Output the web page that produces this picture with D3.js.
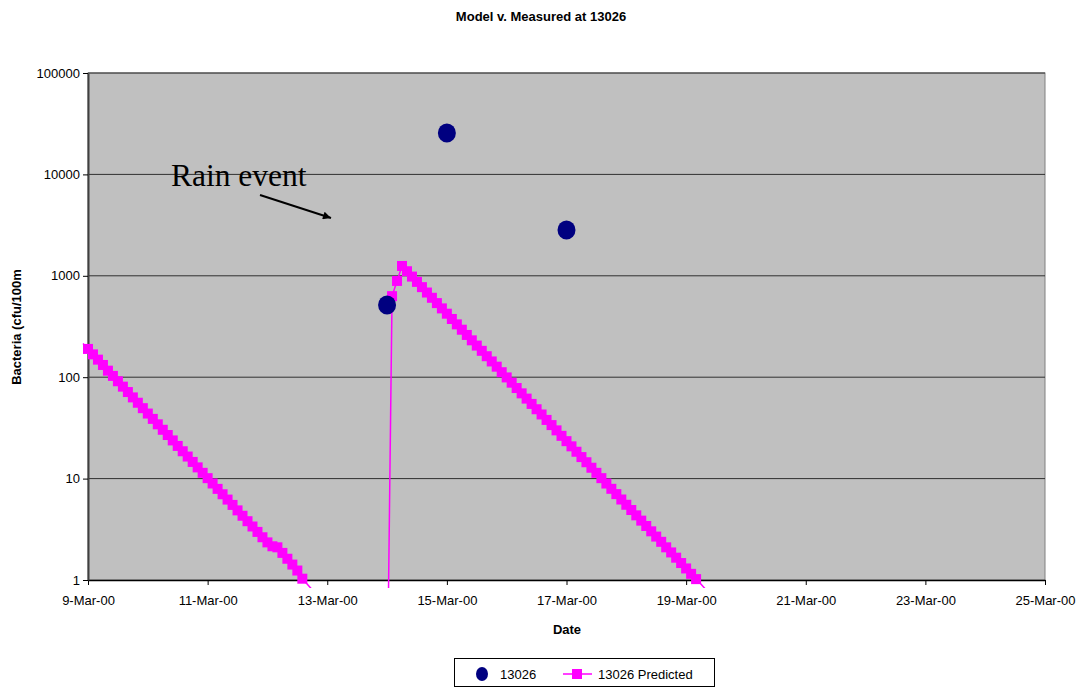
<!DOCTYPE html>
<html><head><meta charset="utf-8">
<script src="https://cdn.jsdelivr.net/npm/d3@7"></script>
<style>body{margin:0;background:#fff;} text{font-family:"Liberation Sans",Arial,sans-serif;}</style>
</head><body>
<svg id="c" width="1083" height="688"></svg>
<script>
const title = "Model v. Measured at 13026";
const xTitle = "Date";
const yTitle = "Bacteria (cfu/100m";
const measuredDates = ["2000-03-14", "2000-03-15", "2000-03-17"];
const measuredValues = [515, 25600, 2830];
const predStart = "2000-03-08T22:00";
const predStepHours = 2;
const predValues = [
  215, 190, 168, 149, 132, 116, 103, 91.2, 80.7, 71.4, 63.2, 56.0, 49.5,
  43.8, 38.8, 34.3, 30.3, 26.9, 23.8, 21.0, 18.6, 16.5, 14.6, 12.9, 11.4,
  10.1, 8.95, 7.92, 7.01, 6.21, 5.50, 4.86, 4.30, 3.80, 3.37, 2.98, 2.64,
  2.35, 2.15, 2.1, 1.85, 1.62, 1.42, 1.24, 1.03, 0.91, 0.80, 0.71, 0.63,
  null, null, null, null, null, null, null, null, null, null, null, null,
  0.05, 630, 890, 1250, 1109, 982, 871, 773, 684, 607, 538, 477,
  423, 375, 332, 294, 261, 231, 205, 182, 161, 143, 127, 112,
  99.5, 88.3, 78.2, 69.3, 61.5, 54.5, 48.3, 42.9, 37.9, 33.7, 29.9, 26.4,
  23.4, 20.8, 18.4, 16.3, 14.5, 12.8, 11.4, 10.1, 8.94, 7.93, 7.03, 6.22,
  5.52, 4.90, 4.34, 3.85, 3.41, 3.02, 2.68, 2.38, 2.10, 1.87, 1.66, 1.47,
  1.30, 1.15, 1.02, 0.91, 0.80, 0.71
];
const xTickDates = ["2000-03-09","2000-03-11","2000-03-13","2000-03-15","2000-03-17","2000-03-19","2000-03-21","2000-03-23","2000-03-25"];
const yTickValues = [1, 10, 100, 1000, 10000, 100000];
const legendLabels = ["13026", "13026 Predicted"];
const annotationText = "Rain event";

const parse = d3.isoParse;
const svg = d3.select("#c");
const L = 88, R = 1045, T = 73, B = 580;
const x = d3.scaleTime().domain([parse(xTickDates[0]), parse(xTickDates[xTickDates.length-1])]).range([L, R]);
const y = d3.scaleLog().domain([1, 100000]).range([B, T]);

// plot background
svg.append("rect").attr("x", L).attr("y", T).attr("width", R-L).attr("height", B-T)
  .attr("fill", "#c0c0c0").attr("stroke", "#808080").attr("stroke-width", 1);

// gridlines
svg.append("g").selectAll("line").data(yTickValues.slice(1)).join("line")
  .attr("x1", L).attr("x2", R).attr("y1", d => y(d)).attr("y2", d => y(d))
  .attr("stroke", "#303030").attr("stroke-width", 1);

// axes
const xAxis = d3.axisBottom(x).tickValues(xTickDates.map(parse)).tickFormat(d3.timeFormat("%-d-%b-%y")).tickSize(5).tickSizeOuter(0);
const gx = svg.append("g").attr("transform", `translate(0,${B})`).call(xAxis);
gx.select(".domain").attr("stroke", "#000").attr("stroke-width", 1.5);
gx.selectAll(".tick line").attr("stroke", "#000");
gx.selectAll(".tick text").attr("font-size", 13).attr("fill", "#000").attr("dy", "1.3em")
  .style("font-family", "Liberation Sans, Arial, sans-serif");

const yAxis = d3.axisLeft(y).tickValues(yTickValues).tickFormat(d3.format("d")).tickSize(5).tickSizeOuter(0);
const gy = svg.append("g").attr("transform", `translate(${L},0)`).call(yAxis);
gy.select(".domain").attr("stroke", "#404040").attr("stroke-width", 2);
gy.selectAll(".tick line").attr("stroke", "#000");
gy.selectAll(".tick text").attr("font-size", 13).attr("fill", "#000").attr("x", -8)
  .style("font-family", "Liberation Sans, Arial, sans-serif");

// clip
svg.append("clipPath").attr("id", "clip").append("rect")
  .attr("x", L-8).attr("y", T-8).attr("width", R-L+16).attr("height", B-T+16);

// predicted series
const t0 = parse(predStart);
const pred = predValues.map((v, i) => ({t: d3.timeHour.offset(t0, i*predStepHours), v}));
const line = d3.line().defined(d => d.v !== null).x(d => x(d.t)).y(d => y(d.v));
const gp = svg.append("g").attr("clip-path", "url(#clip)");
gp.append("path").datum(pred).attr("d", line).attr("fill", "none").attr("stroke", "#ff00ff").attr("stroke-width", 1.5);
gp.selectAll("rect").data(pred.filter(d => d.v !== null && d.v >= 1 && d.t >= x.domain()[0])).join("rect")
  .attr("x", d => x(d.t) - 5).attr("y", d => y(d.v) - 5).attr("width", 10).attr("height", 10)
  .attr("fill", "#ff00ff");

// measured
const meas = measuredDates.map((d, i) => ({t: parse(d), v: measuredValues[i]}));
svg.append("g").selectAll("ellipse").data(meas).join("ellipse")
  .attr("cx", d => x(d.t)).attr("cy", d => y(d.v)).attr("rx", 9).attr("ry", 9.5).attr("fill", "#000080");

// annotation
svg.append("text").attr("x", 171).attr("y", 186)
  .style("font-family", "'Liberation Serif', 'Times New Roman', serif")
  .attr("font-size", 31.5).attr("fill", "#000").text(annotationText);
svg.append("defs").append("marker").attr("id", "ah").attr("viewBox", "0 0 10 10").attr("refX", 10).attr("refY", 5)
  .attr("markerWidth", 10).attr("markerHeight", 8).attr("markerUnits", "userSpaceOnUse").attr("orient", "auto")
  .append("path").attr("d", "M0,0 L10,5 L0,10 z").attr("fill", "#000");
svg.append("line").attr("x1", 260).attr("y1", 195).attr("x2", 331).attr("y2", 218)
  .attr("stroke", "#000").attr("stroke-width", 2).attr("marker-end", "url(#ah)");

// titles
svg.append("text").attr("x", 541).attr("y", 21).attr("text-anchor", "middle").attr("font-weight", "bold")
  .attr("font-size", 13).text(title);
svg.append("text").attr("x", 567).attr("y", 634).attr("text-anchor", "middle").attr("font-weight", "bold")
  .attr("font-size", 13).text(xTitle);
svg.append("text").attr("transform", "translate(21,327) rotate(-90)").attr("text-anchor", "middle").attr("font-weight", "bold")
  .attr("font-size", 13).text(yTitle);

// legend
const lg = svg.append("g");
lg.append("rect").attr("x", 454.5).attr("y", 658.5).attr("width", 260).attr("height", 28).attr("fill", "#fff").attr("stroke", "#000");
lg.append("ellipse").attr("cx", 482).attr("cy", 674).attr("rx", 6).attr("ry", 7).attr("fill", "#000080");
lg.append("text").attr("x", 500).attr("y", 679).attr("font-size", 13).text(legendLabels[0]);
lg.append("line").attr("x1", 563).attr("x2", 592).attr("y1", 674).attr("y2", 674).attr("stroke", "#ff00ff").attr("stroke-width", 1.5);
lg.append("rect").attr("x", 572).attr("y", 669).attr("width", 10).attr("height", 10).attr("fill", "#ff00ff");
lg.append("text").attr("x", 598).attr("y", 679).attr("font-size", 13).text(legendLabels[1]);
</script>
</body></html>
